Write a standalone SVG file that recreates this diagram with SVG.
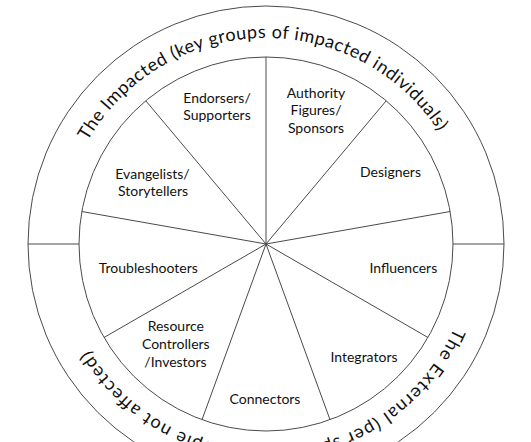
<svg xmlns="http://www.w3.org/2000/svg" width="531" height="442" viewBox="0 0 531 442">
  <style>
    .ring { fill: none; stroke: #4a4a4a; stroke-width: 1; }
    .spoke { stroke: #4a4a4a; stroke-width: 1; fill: none; }
    .lbl { font-family: Lato, "Open Sans", "Liberation Sans", sans-serif; font-size: 14px; fill: #111; text-anchor: middle; }
    .arc { font-family: Lato, "Open Sans", "Liberation Sans", sans-serif; font-size: 18px; fill: #111; }
  </style>
  <defs>
    <path id="topArc" d="M87.6,141 A206,206 0 0 1 438.8,131.8"/>
    <path id="botArc" d="M454.2,327.8 A206,206 0 0 1 89.4,350.1"/>
  </defs>
  <rect width="531" height="442" fill="#ffffff"/>

  <g id="outer-ring">
    <circle class="ring" cx="266" cy="244" r="238"/>
    <circle class="ring" cx="266" cy="244" r="187"/>
    <line class="spoke" x1="28" y1="244" x2="79" y2="244"/>
    <line class="spoke" x1="453" y1="244" x2="504" y2="244"/>
    <text class="arc"><textPath href="#topArc" textLength="420" lengthAdjust="spacing">The Impacted (key groups of impacted individuals)</textPath></text>
    <text class="arc"><textPath href="#botArc" textLength="449" lengthAdjust="spacing">The External (per spective of people not affected)</textPath></text>
  </g>

  <g id="connectors">
    <line class="spoke" x1="266" y1="244" x2="266" y2="57"/>
    <line class="spoke" x1="266" y1="244" x2="386.2" y2="100.8"/>
    <line class="spoke" x1="266" y1="244" x2="450.2" y2="211.5"/>
    <line class="spoke" x1="266" y1="244" x2="428" y2="337.5"/>
    <line class="spoke" x1="266" y1="244" x2="330" y2="419.7"/>
    <line class="spoke" x1="266" y1="244" x2="202" y2="419.7"/>
    <line class="spoke" x1="266" y1="244" x2="104" y2="337.5"/>
    <line class="spoke" x1="266" y1="244" x2="81.8" y2="211.5"/>
    <line class="spoke" x1="266" y1="244" x2="145.8" y2="100.8"/>
  </g>

  <g id="endorsers"><text class="lbl" x="217" y="103">Endorsers/</text><text class="lbl" x="217" y="120">Supporters</text></g>
  <g id="authority"><text class="lbl" x="316" y="97.5">Authority</text><text class="lbl" x="316" y="115">Figures/</text><text class="lbl" x="316" y="132.5">Sponsors</text></g>
  <g id="designers"><text class="lbl" x="390.5" y="176.5">Designers</text></g>
  <g id="evangelists"><text class="lbl" x="152.5" y="179">Evangelists/</text><text class="lbl" x="153" y="196">Storytellers</text></g>
  <g id="troubleshooters"><text class="lbl" x="148.3" y="272.5">Troubleshooters</text></g>
  <g id="influencers"><text class="lbl" x="403.3" y="272.5">Influencers</text></g>
  <g id="resource"><text class="lbl" x="175.8" y="331">Resource</text><text class="lbl" x="175.8" y="348.7">Controllers</text><text class="lbl" x="175.5" y="366.5">/Investors</text></g>
  <g id="integrators"><text class="lbl" x="364" y="361.5">Integrators</text></g>
  <g id="connectors-node"><text class="lbl" x="265" y="404.3">Connectors</text></g>
</svg>
